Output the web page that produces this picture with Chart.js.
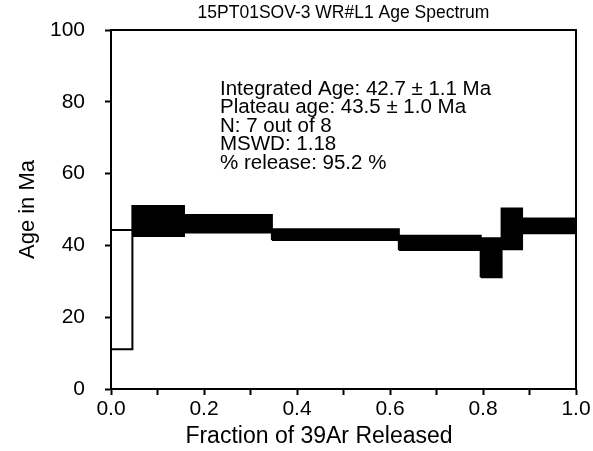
<!DOCTYPE html>
<html lang="en">
<head>
    <meta charset="UTF-8">
    <title>15PT01SOV-3 WR#L1 Age Spectrum</title>
    <style>
        body {
            margin: 0;
            padding: 0;
            background: white;
        }
        .chart-container {
            width: 593px;
            height: 451px;
        }
    </style>
    <script src="https://cdn.jsdelivr.net/npm/chart.js"></script>
</head>
<body>
    <div class="chart-container">
        <canvas id="myChart" width="593" height="451"></canvas>
    </div>
    <script>
        // Données du spectre d'âge (fraction cumulée de 39Ar, âges min/max en Ma)
        const cumRelease = [0, 0.046, 0.157, 0.346, 0.619, 0.795, 0.840, 0.884, 1.0];
        const ageLow = [11.1, 42.6, 43.6, 41.5, 38.7, 31.1, 38.9, 43.4];
        const ageHigh = [44.3, 51.0, 48.5, 44.5, 42.7, 42.0, 50.3, 47.5];
        const inPlateau = [false, true, true, true, true, true, true, true];
        const xTicks = [0, 0.2, 0.4, 0.6, 0.8, 1.0];
        const yTicks = [0, 20, 40, 60, 80, 100];
        const infoLines = [
            'Integrated Age: 42.7 ± 1.1 Ma',
            'Plateau age: 43.5 ± 1.0 Ma',
            'N: 7 out of 8',
            'MSWD: 1.18',
            '% release: 95.2 %'
        ];
        const chartTitle = '15PT01SOV-3 WR#L1 Age Spectrum';
        const xTitle = 'Fraction of 39Ar Released';

        const FONT = 'Arial, "Liberation Sans", sans-serif';

        // Un rectangle fermé par palier
        const datasets = ageLow.map((low, i) => ({
            data: [
                { x: cumRelease[i], y: low },
                { x: cumRelease[i + 1], y: low },
                { x: cumRelease[i + 1], y: ageHigh[i] },
                { x: cumRelease[i], y: ageHigh[i] },
                { x: cumRelease[i], y: low }
            ],
            showLine: true,
            borderColor: '#000',
            borderWidth: 2,
            backgroundColor: inPlateau[i] ? '#000' : '#fff',
            fill: 'shape',
            pointRadius: 0,
            tension: 0
        }));

        // Cadre, titres et texte d'informations
        const decorPlugin = {
            id: 'decor',
            afterDraw(chart) {
                const { ctx, chartArea } = chart;
                ctx.save();
                ctx.strokeStyle = '#000';
                ctx.lineWidth = 2;
                ctx.strokeRect(chartArea.left, chartArea.top,
                    chartArea.right - chartArea.left, chartArea.bottom - chartArea.top);

                ctx.fillStyle = '#000';
                ctx.textBaseline = 'middle';
                ctx.textAlign = 'center';
                ctx.font = '17.5px ' + FONT;
                ctx.fillText(chartTitle, (chartArea.left + chartArea.right) / 2, 13);

                // titre de l'axe X, un peu décalé à gauche comme dans l'original
                ctx.font = '23px ' + FONT;
                ctx.fillText(xTitle, 319, 437);

                ctx.textAlign = 'left';
                ctx.font = '20.5px ' + FONT;
                infoLines.forEach((line, i) => {
                    ctx.fillText(line, chartArea.left + 109, chartArea.top + 59 + i * 18.5);
                });
                ctx.restore();
            }
        };

        const ctx = document.getElementById('myChart').getContext('2d');
        const myChart = new Chart(ctx, {
            type: 'scatter',
            data: { datasets: datasets },
            options: {
                responsive: false,
                animation: false,
                layout: {
                    padding: { top: 30, right: 17, left: 0, bottom: 0 }
                },
                plugins: {
                    legend: { display: false },
                    tooltip: { enabled: false }
                },
                scales: {
                    x: {
                        type: 'linear',
                        min: 0,
                        max: 1,
                        afterBuildTicks: (scale) => {
                            const t = [];
                            for (let i = 0; i <= 10; i++) t.push({ value: i / 10 });
                            scale.ticks = t;
                        },
                        afterFit: (scale) => {
                            scale.height = 62;
                            scale.paddingLeft = 0;
                            scale.paddingRight = 0;
                        },
                        ticks: {
                            color: '#000',
                            font: { family: FONT, size: 21 },
                            padding: 2,
                            maxRotation: 0,
                            autoSkip: false,
                            callback: (value) => {
                                const v = Math.round(value * 10) / 10;
                                return xTicks.some(t => Math.abs(t - v) < 1e-6) ? v.toFixed(1) : '';
                            }
                        },
                        grid: {
                            drawOnChartArea: false,
                            tickLength: 6,
                            tickColor: '#000',
                            tickWidth: 2
                        },
                        border: { color: '#000', width: 2 }
                    },
                    y: {
                        type: 'linear',
                        min: 0,
                        max: 100,
                        afterBuildTicks: (scale) => {
                            scale.ticks = yTicks.map(v => ({ value: v }));
                        },
                        afterFit: (scale) => {
                            scale.width = 111;
                            scale.paddingTop = 0;
                            scale.paddingBottom = 0;
                        },
                        ticks: {
                            color: '#000',
                            font: { family: FONT, size: 21 },
                            padding: 20
                        },
                        grid: {
                            drawOnChartArea: false,
                            tickLength: 6,
                            tickColor: '#000',
                            tickWidth: 2
                        },
                        border: { color: '#000', width: 2 },
                        title: {
                            display: true,
                            text: 'Age in Ma',
                            color: '#000',
                            font: { family: FONT, size: 22 },
                            padding: { top: 15, bottom: 0 }
                        }
                    }
                }
            },
            plugins: [decorPlugin]
        });
    </script>
</body>
</html>
